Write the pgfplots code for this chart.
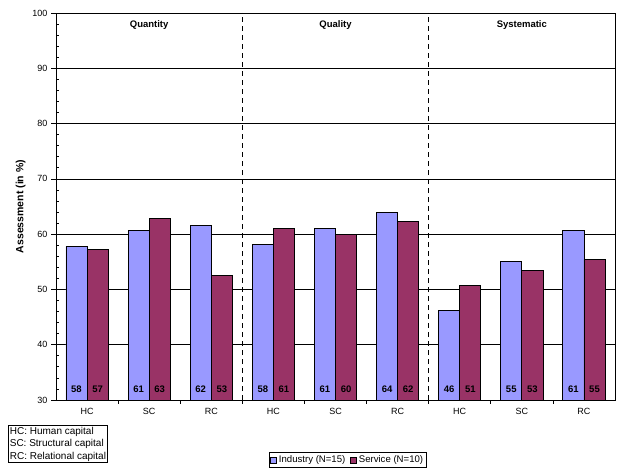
\documentclass[border=0pt]{standalone}
\usepackage{pgfplots}
\pgfplotsset{compat=1.18}
\usepackage{pgfplotstable}
\usepackage{fontspec}
\setmainfont{Liberation Sans}

\definecolor{industry}{HTML}{9999FF}
\definecolor{service}{HTML}{993366}

% x = category position, ind = Industry (N=15), ser = Service (N=10)
\pgfplotstableread{
x ind ser
0 57.8 57.3
1 60.7 62.8
2 61.6 52.6
3 58.1 61.1
4 61.1 60.0
5 64.0 62.3
6 46.2 50.7
7 55.0 53.4
8 60.6 55.4
}\assess

\begin{document}
\begin{tikzpicture}
\useasboundingbox (0,0) rectangle (626pt,469pt);
\begin{axis}[
  at={(56pt,69pt)}, anchor=south west,
  scale only axis, width=559pt, height=387pt,
  xmin=-0.5, xmax=8.5, ymin=30, ymax=100,
  font=\fontsize{9}{11}\selectfont,
  /pgf/number format/assume math mode=true,
  xtick={0,...,8},
  xticklabels={HC,SC,RC,HC,SC,RC,HC,SC,RC},
  xticklabel style={yshift=-5pt},
  yticklabel style={xshift=-5pt},
  major x tick style={draw=none},
  extra x ticks={0.5,1.5,...,7.5},
  extra x tick labels={},
  extra x tick style={major x tick style={draw=black, line width=0.7pt}, major tick length=-4pt},
  tick align=inside,
  major tick length=-5pt,
  ytick={30,40,...,100},
  minor y tick num=4,
  minor tick length=3pt,
  xtick pos=bottom, ytick pos=left,
  ymajorgrids,
  major grid style={black, line width=0.7pt},
  axis line style={black, line width=0.8pt},
  tick style={black, line width=0.7pt},
  ylabel={Assessment (in \%)},
  ylabel style={font=\fontsize{10.5}{12}\selectfont\bfseries, xshift=0pt},
  legend style={at={(0.522,-0.155)}, anchor=center, legend columns=2,
    draw=black, line width=0.7pt, inner sep=1.5pt,
    font=\fontsize{9.6}{11}\selectfont,
    /tikz/every even column/.append style={column sep=3pt}},
  legend image code/.code={\draw[#1, line width=0.5pt] (0pt,-3pt) rectangle (6pt,3pt);},
]
\addplot[ybar, bar width=0.34, bar shift=-0.17, fill=industry, draw=black, line width=0.7pt]
  table[x=x, y=ind] {\assess};
\addlegendentry{Industry (N=15)}
\addplot[ybar, bar width=0.34, bar shift=0.17, fill=service, draw=black, line width=0.7pt]
  table[x=x, y=ser] {\assess};
\addlegendentry{Service (N=10)}

% value labels at the foot of each bar
\addplot[draw=none, mark=none, forget plot, point meta=\thisrow{ind},
  nodes near coords={\pgfmathprintnumber[fixed,precision=0]{\pgfplotspointmeta}},
  nodes near coords style={anchor=base, yshift=8pt, font=\fontsize{9.5}{11}\selectfont\bfseries}]
  table[x expr=\thisrow{x}-0.17, y expr=30] {\assess};
\addplot[draw=none, mark=none, forget plot, point meta=\thisrow{ser},
  nodes near coords={\pgfmathprintnumber[fixed,precision=0]{\pgfplotspointmeta}},
  nodes near coords style={anchor=base, yshift=8pt, font=\fontsize{9.5}{11}\selectfont\bfseries}]
  table[x expr=\thisrow{x}+0.17, y expr=30] {\assess};

\draw[dashed, line width=0.8pt, dash pattern=on 5pt off 4pt] (axis cs:2.5,30) -- (axis cs:2.5,100);
\draw[dashed, line width=0.8pt, dash pattern=on 5pt off 4pt] (axis cs:5.5,30) -- (axis cs:5.5,100);

\node[font=\fontsize{9.5}{11}\selectfont\bfseries] at (axis cs:1,97.8) {Quantity};
\node[font=\fontsize{9.5}{11}\selectfont\bfseries] at (axis cs:4,97.8) {Quality};
\node[font=\fontsize{9.5}{11}\selectfont\bfseries] at (axis cs:7,97.8) {Systematic};
\end{axis}
\node[draw=black, line width=0.7pt, anchor=south west, align=left, inner sep=1.5pt,
  font=\fontsize{10}{12.5}\selectfont] at (8pt,6pt)
  {HC: Human capital\\SC: Structural capital\\RC: Relational capital};
\end{tikzpicture}
\end{document}
